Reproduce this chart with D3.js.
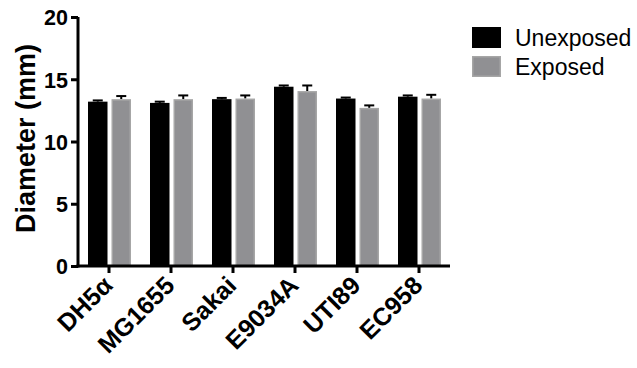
<!DOCTYPE html>
<html>
<head>
<meta charset="utf-8">
<script src="https://cdn.jsdelivr.net/npm/d3@7"></script>
<style>
  body { margin: 0; background: #fff; }
  svg { font-family: "Liberation Sans", Arial, sans-serif; }
</style>
</head>
<body>
<svg id="chart" width="637" height="368"></svg>
<script>
// Data
const strains = ["DH5\u03b1", "MG1655", "Sakai", "E9034A", "UTI89", "EC958"];
const unexposed = [13.2, 13.1, 13.4, 14.4, 13.45, 13.6];
const unexposedErr = [0.1, 0.1, 0.1, 0.1, 0.08, 0.1];
const exposed = [13.4, 13.4, 13.45, 14.05, 12.7, 13.45];
const exposedErr = [0.25, 0.3, 0.25, 0.45, 0.2, 0.3];
const yTicks = [0, 5, 10, 15, 20];

const seriesNames = ["Unexposed", "Exposed"];
const fills = ["#000000", "#909093"];
const strokes = ["#000000", "#a6a6a6"];

const svg = d3.select("#chart");
const margin = { top: 17, left: 78 };
const plotW = 372, plotH = 249;

const g = svg.append("g")
    .attr("transform", "translate(" + margin.left + "," + margin.top + ")");

// Scales
const x = d3.scaleBand().domain(strains).range([0, plotW]).padding(0);
const x1 = d3.scaleBand().domain(seriesNames).range([10, x.bandwidth() - 9]).paddingInner(0.17);
const y = d3.scaleLinear().domain([0, 20]).range([plotH, 0]);

// Build rows for bars
const rows = strains.map((s, i) => ({
    strain: s,
    vals: [
        { name: "Unexposed", v: unexposed[i], e: unexposedErr[i], k: 0 },
        { name: "Exposed", v: exposed[i], e: exposedErr[i], k: 1 }
    ]
}));

const groups = g.selectAll(".grp")
    .data(rows)
    .enter().append("g")
    .attr("transform", d => "translate(" + x(d.strain) + ",0)");

// Error bars (upward only)
groups.selectAll(".err")
    .data(d => d.vals)
    .enter().append("g")
    .each(function (d) {
        const cx = x1(d.name) + x1.bandwidth() / 2;
        const el = d3.select(this);
        el.append("line")
            .attr("x1", cx).attr("x2", cx)
            .attr("y1", y(d.v)).attr("y2", y(d.v + d.e))
            .attr("stroke", "#000").attr("stroke-width", 2);
        el.append("line")
            .attr("x1", cx - 5).attr("x2", cx + 5)
            .attr("y1", y(d.v + d.e)).attr("y2", y(d.v + d.e))
            .attr("stroke", "#000").attr("stroke-width", 2);
    });

// Bars
groups.selectAll("rect")
    .data(d => d.vals)
    .enter().append("rect")
    .attr("x", d => x1(d.name) + 0.75)
    .attr("y", d => y(d.v) + 0.75)
    .attr("width", x1.bandwidth() - 1.5)
    .attr("height", d => y(0) - y(d.v) - 0.75)
    .attr("fill", d => fills[d.k])
    .attr("stroke", d => strokes[d.k])
    .attr("stroke-width", 1.5);

// Y axis
const yAxis = g.append("g")
    .call(d3.axisLeft(y).tickValues(yTicks).tickSize(7).tickPadding(3));
yAxis.select(".domain").attr("stroke-width", 3).attr("d", "M0," + (plotH + 1.5) + "V0");
yAxis.selectAll(".tick line").attr("stroke-width", 3);
yAxis.selectAll("text")
    .attr("font-size", 21.5).attr("font-weight", "bold").attr("fill", "#000")
    .attr("dy", "0.36em");

// X axis
const xAxis = g.append("g")
    .attr("transform", "translate(0," + plotH + ")")
    .call(d3.axisBottom(x).tickSize(7).tickSizeOuter(0));
xAxis.select(".domain").attr("stroke-width", 3).attr("d", "M-1.5,0H" + plotW);
xAxis.selectAll(".tick line").attr("stroke-width", 3);
xAxis.selectAll("text")
    .attr("font-size", 25).attr("font-weight", "bold").attr("fill", "#000")
    .attr("text-anchor", "end")
    .attr("dy", null)
    .attr("y", 0)
    .attr("transform", "translate(5,21) rotate(-45)");

// Y label
svg.append("text")
    .attr("transform", "translate(35," + 138.5 + ") rotate(-90)")
    .attr("text-anchor", "middle")
    .attr("font-size", 27)
    .attr("font-weight", "bold")
    .text("Diameter (mm)");

// Legend
const legend = svg.append("g").attr("transform", "translate(472,27)");
seriesNames.forEach((name, i) => {
    legend.append("rect")
        .attr("x", 0.75).attr("y", i * 29 + 0.75)
        .attr("width", 27.5).attr("height", 19.5)
        .attr("fill", fills[i]).attr("stroke", strokes[i]).attr("stroke-width", 1.5);
    legend.append("text")
        .attr("x", 43).attr("y", i * 29 + 18.5)
        .attr("font-size", 23)
        .text(name);
});
</script>
</body>
</html>
